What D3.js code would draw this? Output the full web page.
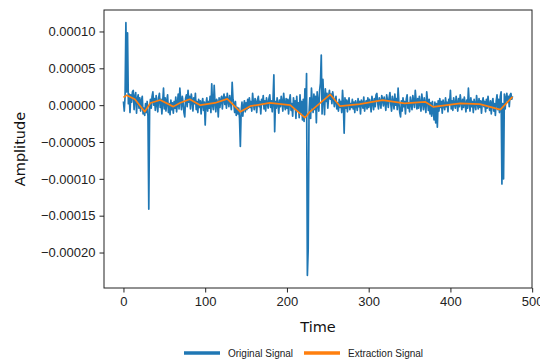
<!DOCTYPE html>
<html>
<head>
<meta charset="utf-8">
<script src="https://cdn.jsdelivr.net/npm/d3@7"></script>
<style>
  body { margin: 0; background: #fff; }
  svg { display: block; font-family: "DejaVu Sans", sans-serif; }
  .axis path, .axis line { stroke: #222; }
  .axis text { fill: #222; font-size: 13px; }
</style>
</head>
<body>
<div id="chart"></div>
<script>
// amplitudes in micro-units (x 1e-6)
const UNIT = 1e-6;

const originalSignal = [
  5, -8, 12, 112, 18, 98, 2, 15, -10, 14, 4, 18, 20, -6, 12, 17, -11, 8, 14, -4,
  10, -8, 6, 12, -12, -4, -14, 2, -10, 5, -15, -141, -6, 8, -4, 12, 18, 0, 9, -7,
  13, 2, -9, 10, 16, -3, 8, -12, 4, 23, -5, 10, -8, 6, 14, -10, 2, -13, 7, -6,
  3, -11, 5, -4, 11, -9, 2, 15, -5, 23, 6, -6, 12, 3, -10, -16, 9, 14, -2, 20,
  4, 12, -5, 15, 7, -8, 10, 2, 16, -6, 5, -10, 8, -3, 6, -12, 3, 9, -7, 4,
  -27, 2, 10, -8, 5, -4, 12, -10, 29, 0, -6, 27, 3, -9, 8, 4, -16, 10, -3, 7,
  12, -5, 9, 15, 1, 11, -4, 16, 6, -2, 13, 4, -6, 31, 8, 2, -10, 5, -14, -3,
  -12, -4, -18, -56, -8, 4, -15, -2, 6, -9, 3, -6, 8, -4, 10, -3, 5, -8, 16, 2,
  -6, 9, 4, -10, 7, 12, -2, 5, -12, 8, 1, 13, -5, 6, -8, 10, 3, -4, 9, 14,
  -3, 6, -9, 8, 41, -36, 5, -4, 10, 2, -11, 7, -2, 12, 4, -8, 16, 1, -6, 9,
  -4, 8, -12, 5, 14, -7, 2, -15, 10, -3, 6, -18, 12, -8, 3, -17, 14, -10, 5, -20,
  8, -22, 22, -14, 43, -231, -196, -12, 10, -18, 23, 2, -10, 15, -6, 12, -24, 18, 4, -8,
  20, 30, 68, -12, 35, 8, -13, 22, 5, 16, -4, 12, 20, 8, 15, 2, 18, 10, -2, 6,
  12, -5, 3, -8, 8, -3, 5, -10, 20, 2, -38, 10, -4, 7, -9, 4, 10, -6, 2, -3,
  8, -5, 4, -10, 6, 1, -7, 9, -2, 5, -12, 7, 3, -4, 11, -8, 2, 6, -5, 10,
  -3, 8, 2, -9, 12, 4, -6, 9, -2, 14, 16, 3, -5, 10, 6, -4, 13, 8, -1, 11,
  4, -7, 14, 6, -3, 10, 17, 2, -8, 12, 5, -5, 15, 0, 9, -6, 23, 3, -10, -16,
  6, -8, 10, -2, 5, -12, 8, 14, -4, 3, -9, 11, 2, -6, 13, 5, -3, 20, 7, -5,
  9, -4, 12, 2, -8, 15, 4, -6, 10, 1, -10, 18, 6, -7, 8, -12, 3, -15, 5, -9,
  -20, 4, -24, 2, -30, 6, -8, 9, -3, 5, -11, 7, 0, -6, 10, -2, 4, -9, 8, 2,
  20, -5, 6, -7, 10, 1, -4, 12, 3, -8, 9, -2, 14, 4, -6, 8, -3, 11, 2, -9,
  7, -4, 23, 3, -8, 10, -2, 5, -10, 8, 1, -6, 13, 2, -5, 9, -3, 6, -11, 4,
  10, -2, 5, -9, 8, -4, 12, 0, -7, 6, -12, 3, 9, -8, 2, -14, 5, 14, -6, 8,
  -10, 12, 18, -107, 2, -100, 15, -5, 10, 16, 4, 12, -2, 14, 16, 8, 12
];

const extractTime = [0, 4, 14, 26, 33, 45, 61, 69, 81, 94, 112, 127, 143, 155, 179, 204, 222, 228, 253, 265, 289, 317, 344, 369, 379, 412, 436, 461, 476];
const extractValues = [10.5, 13.6, 8, -9, 3, 7, -2, 3, 8, 0, 3, 8.6, -9, -1.4, 3, 0, -17, -9, 14.5, -1.4, 1.4, 6.8, 2.3, 4.5, -2.3, 2.3, 1.4, -6, 11.3];

const xTicks = [0, 100, 200, 300, 400, 500];
const yTicks = [0.0001, 0.00005, 0, -0.00005, -0.0001, -0.00015, -0.0002];
const seriesNames = ["Original Signal", "Extraction Signal"];
const colors = ["#1f77b4", "#ff7f0e"];

const width = 540, height = 360;
const margin = { top: 10, right: 8, bottom: 72, left: 104 };

const svg = d3.select("#chart").append("svg")
    .attr("width", width)
    .attr("height", height);

const n = originalSignal.length;
const xPad = 0.05 * (n - 1);
const x = d3.scaleLinear()
    .domain([-xPad, n - 1 + xPad])
    .range([margin.left, width - margin.right]);

const yMin = d3.min(originalSignal) * UNIT, yMax = d3.max(originalSignal) * UNIT;
const yPad = 0.05 * (yMax - yMin);
const y = d3.scaleLinear()
    .domain([yMin - yPad, yMax + yPad])
    .range([height - margin.bottom, margin.top]);

const fmt = d => d3.format(".5f")(d).replace("-", "\u2212");

// axes
svg.append("g")
    .attr("class", "axis")
    .attr("transform", `translate(0,${height - margin.bottom})`)
    .call(d3.axisBottom(x).tickValues(xTicks).tickSize(4.5).tickPadding(4).tickSizeOuter(0))
    .call(g => g.select(".domain").remove());

svg.append("g")
    .attr("class", "axis")
    .attr("transform", `translate(${margin.left},0)`)
    .call(d3.axisLeft(y).tickValues(yTicks).tickFormat(fmt).tickSize(4.5).tickPadding(4).tickSizeOuter(0))
    .call(g => g.select(".domain").remove());

// lines
const blueLine = d3.line()
    .x((d, i) => x(i))
    .y(d => y(d * UNIT));

svg.append("path")
    .datum(originalSignal)
    .attr("fill", "none")
    .attr("stroke", colors[0])
    .attr("stroke-width", 1.7)
    .attr("stroke-linejoin", "round")
    .attr("d", blueLine);

const orangeLine = d3.line()
    .x((d, i) => x(extractTime[i]))
    .y(d => y(d * UNIT));

svg.append("path")
    .datum(extractValues)
    .attr("fill", "none")
    .attr("stroke", colors[1])
    .attr("stroke-width", 1.7)
    .attr("stroke-linejoin", "round")
    .attr("d", orangeLine);

// frame
svg.append("rect")
    .attr("x", margin.left)
    .attr("y", margin.top)
    .attr("width", width - margin.left - margin.right)
    .attr("height", height - margin.top - margin.bottom)
    .attr("fill", "none")
    .attr("stroke", "#222")
    .attr("stroke-width", 1);

// labels
svg.append("text")
    .attr("x", (margin.left + width - margin.right) / 2)
    .attr("y", 332)
    .attr("text-anchor", "middle")
    .attr("font-size", 14.5)
    .attr("fill", "#111")
    .text("Time");

svg.append("text")
    .attr("transform", `translate(25,${(margin.top + height - margin.bottom) / 2}) rotate(-90)`)
    .attr("text-anchor", "middle")
    .attr("font-size", 14.5)
    .attr("fill", "#111")
    .text("Amplitude");

// legend
const legendX = [184, 304];
const legend = svg.append("g");
seriesNames.forEach((name, i) => {
  legend.append("line")
      .attr("x1", legendX[i]).attr("x2", legendX[i] + 36)
      .attr("y1", 353).attr("y2", 353)
      .attr("stroke", colors[i])
      .attr("stroke-width", 3.5);
  legend.append("text")
      .attr("x", legendX[i] + 44)
      .attr("y", 356.5)
      .attr("font-size", 10)
      .attr("font-family", "'Liberation Sans Narrow', 'Liberation Sans', sans-serif")
      .attr("fill", "#222")
      .text(name);
});
</script>
</body>
</html>
